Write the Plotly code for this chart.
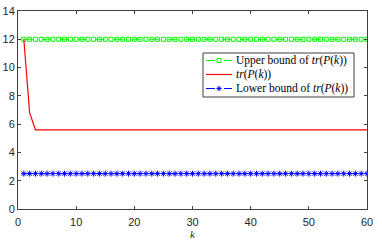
import plotly.graph_objects as go

k = list(range(1, 61))
upper = [12.0] * 60
trP = [12.0, 6.8] + [5.6] * 58
lower = [2.5] * 60

x_ticks = [0, 10, 20, 30, 40, 50, 60]
y_ticks = [0, 2, 4, 6, 8, 10, 12, 14]

legend_labels = [
    "Upper bound of <i>tr</i>(<i>P</i>(<i>k</i>))",
    "<i>tr</i>(<i>P</i>(<i>k</i>))",
    "Lower bound of <i>tr</i>(<i>P</i>(<i>k</i>))",
]
GREEN, RED, BLUE = "#00ff00", "#ff0000", "#0000ff"

fig = go.Figure()
fig.add_trace(go.Scatter(
    x=k, y=upper, mode="lines+markers", name=legend_labels[0], showlegend=False,
    line=dict(color=GREEN, width=1, dash="dash"),
    marker=dict(symbol="square-open", size=4, color=GREEN, line=dict(width=1, color=GREEN)),
))
fig.add_trace(go.Scatter(
    x=k, y=trP, mode="lines", name=legend_labels[1], showlegend=False,
    line=dict(color=RED, width=1.2),
))
fig.add_trace(go.Scatter(
    x=k, y=lower, mode="lines+markers", name=legend_labels[2], showlegend=False,
    line=dict(color=BLUE, width=1, dash="dash"),
    marker=dict(symbol="asterisk-open", size=5, color=BLUE, line=dict(width=1, color=BLUE)),
))

# layout geometry (pixels)
W, H = 382, 245
ML, MR, MT, MB = 18, 15, 11, 36
PW, PH = W - ML - MR, H - MT - MB


def fx(px):
    return (px - ML) / PW


def fy(py):
    return (H - MB - py) / PH


shapes = []
annotations = []
# legend box
shapes.append(dict(type="rect", xref="paper", yref="paper",
                   x0=fx(203), x1=fx(354), y0=fy(97), y1=fy(53),
                   line=dict(color="#404040", width=1), fillcolor="white", layer="above"))
rows = [60.5, 74.5, 88.5]
colors = [GREEN, RED, BLUE]
for i, (ry, c) in enumerate(zip(rows, colors)):
    dash = "solid" if i == 1 else "dash"
    shapes.append(dict(type="line", xref="paper", yref="paper",
                       x0=fx(206), x1=fx(232), y0=fy(ry), y1=fy(ry),
                       line=dict(color=c, width=1.2 if i == 1 else 1, dash=dash), layer="above"))
    annotations.append(dict(xref="paper", yref="paper", x=fx(234), y=fy(ry),
                            xanchor="left", yanchor="middle", showarrow=False,
                            text=legend_labels[i],
                            font=dict(family="Liberation Serif, Times New Roman, serif", size=11.5, color="#000")))
# green square marker
shapes.append(dict(type="rect", xref="paper", yref="paper",
                   x0=fx(217), x1=fx(221), y0=fy(rows[0] + 2), y1=fy(rows[0] - 2),
                   line=dict(color=GREEN, width=1), fillcolor="white", layer="above"))
# blue asterisk marker
cx, cy, r = 219, rows[2], 2.5
for dx, dy in [(r, 0), (0, r), (r * 0.75, r * 0.75), (r * 0.75, -r * 0.75)]:
    shapes.append(dict(type="line", xref="paper", yref="paper",
                       x0=fx(cx - dx), x1=fx(cx + dx), y0=fy(cy - dy), y1=fy(cy + dy),
                       line=dict(color=BLUE, width=1), layer="above"))

axis_common = dict(
    showgrid=False, zeroline=False, showline=True, linecolor="#404040", linewidth=1,
    mirror="ticks", ticks="inside", ticklen=3, tickcolor="#404040", automargin=False,
    tickfont=dict(family="Liberation Sans, Arial, sans-serif", size=11, color="#262626"),
)

fig.update_layout(
    width=W, height=H,
    margin=dict(l=ML, r=MR, t=MT, b=MB),
    paper_bgcolor="white", plot_bgcolor="white",
    showlegend=False,
    shapes=shapes, annotations=annotations,
    xaxis=dict(range=[0, 60], tickvals=x_ticks, ticklabelstandoff=3, **axis_common,
               title=dict(text="<i>k</i>", standoff=3,
                          font=dict(family="Liberation Serif, serif", size=11, color="#262626"))),
    yaxis=dict(range=[0, 14], tickvals=y_ticks, **axis_common),
)

fig.write_html("out.html", config={"displayModeBar": False},
               post_script="document.body.style.margin='0';document.body.style.overflow='hidden';")
